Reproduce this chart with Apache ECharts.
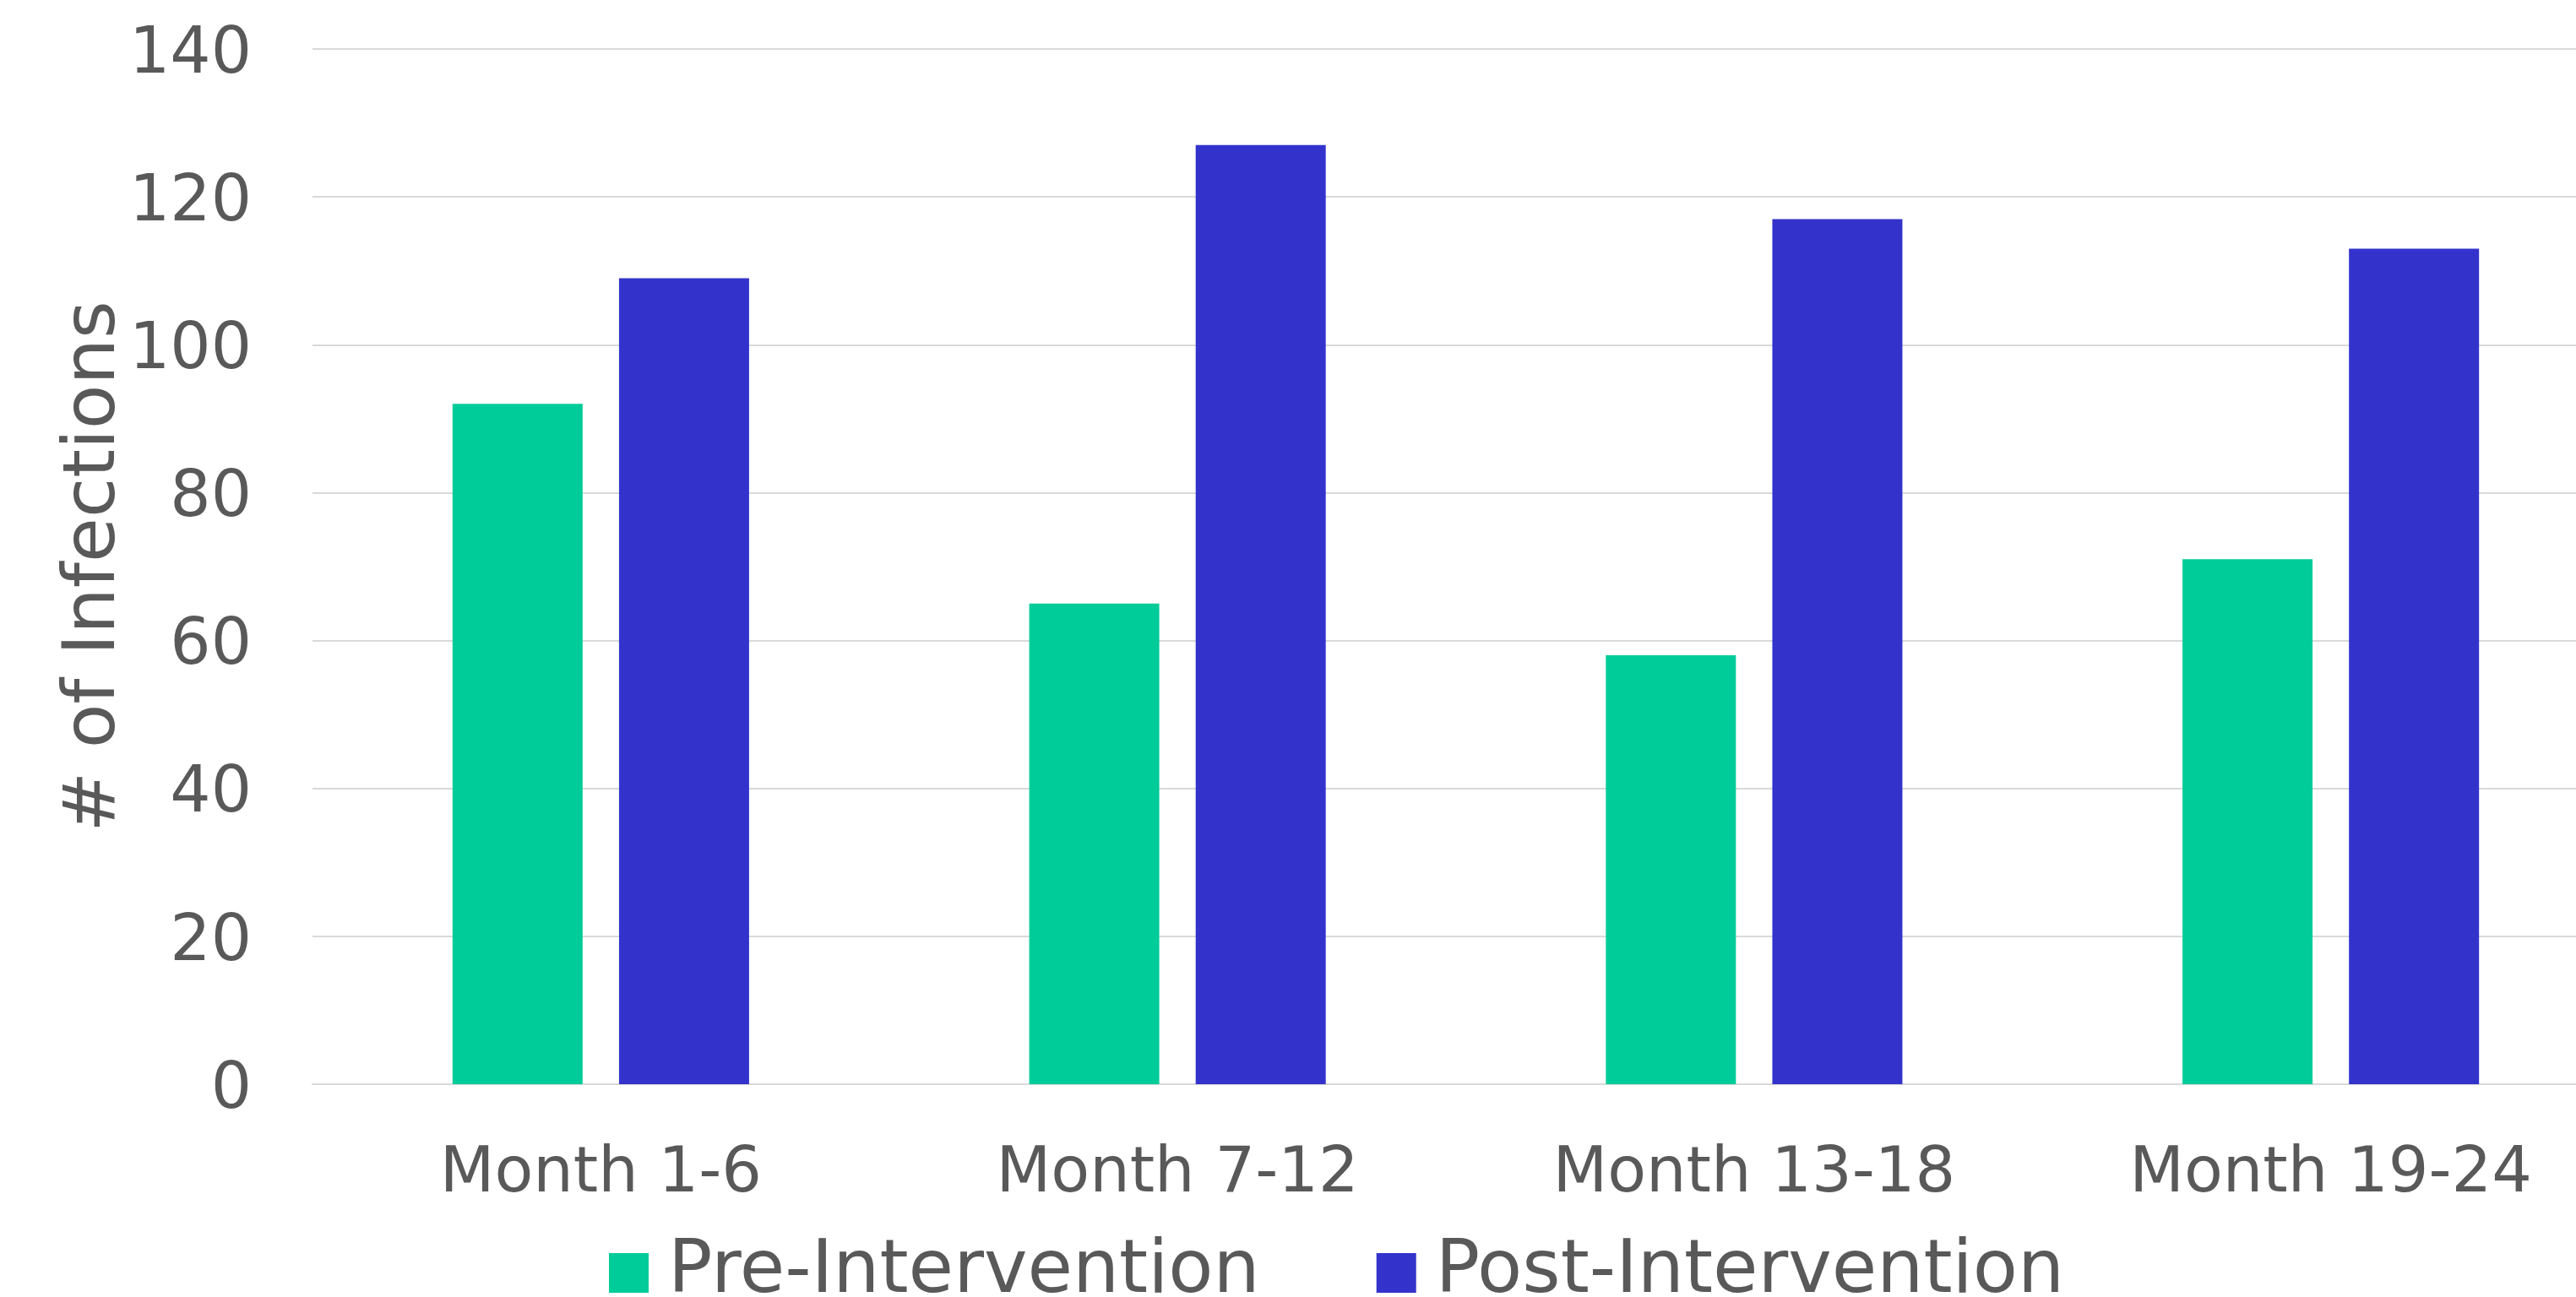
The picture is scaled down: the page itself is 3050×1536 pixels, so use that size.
<!DOCTYPE html>
<html>
<head>
<meta charset="utf-8">
<script src="https://cdn.jsdelivr.net/npm/echarts@6/dist/echarts.min.js"></script>
<style>
html,body{margin:0;padding:0;background:#fff;}
#chart{width:3050px;height:1536px;}
</style>
</head>
<body>
<div id="chart"></div>
<script>
const categories = ["Month 1-6", "Month 7-12", "Month 13-18", "Month 19-24"];
const seriesNames = ["Pre-Intervention", "Post-Intervention"];
const preValues = [92, 65, 58, 71];
const postValues = [109, 127, 117, 113];
const yAxisTitle = "# of Infections";

const FONT = "DejaVu Sans";
const TEXT = "#595959";

const chart = echarts.init(document.getElementById('chart'), null, {renderer: 'canvas'});
chart.setOption({
  animation: false,
  backgroundColor: '#ffffff',
  textStyle: {fontFamily: FONT, color: TEXT},
  grid: {left: 370, top: 58, right: -51, height: 1226, containLabel: false, outerBoundsMode: 'none'},
  legend: {
    left: 716,
    top: 1459,
    itemWidth: 47,
    itemHeight: 47,
    itemGap: 138,
    icon: 'rect',
    textStyle: {fontFamily: FONT, fontSize: 87, color: TEXT, padding: [0, 0, 0, 18]},
    data: seriesNames
  },
  xAxis: {
    type: 'category',
    data: categories,
    axisLine: {show: true, lineStyle: {color: '#D9D9D9', width: 2}},
    axisTick: {show: false},
    axisLabel: {fontFamily: FONT, fontSize: 75, color: TEXT, margin: 70}
  },
  yAxis: {
    type: 'value',
    min: 0,
    max: 140,
    interval: 20,
    name: yAxisTitle,
    nameLocation: 'middle',
    nameGap: 214,
    nameMoveOverlap: false,
    nameRotate: 90,
    nameTextStyle: {fontFamily: FONT, fontSize: 86, color: TEXT},
    axisLine: {show: false},
    axisTick: {show: false},
    splitLine: {lineStyle: {color: '#D9D9D9', width: 2}},
    axisLabel: {
      color: TEXT, margin: 72,
      formatter: '{v|{value}}',
      rich: {v: {fontFamily: FONT, fontSize: 76, color: TEXT, padding: [16, 0, 0, 0]}}
    }
  },
  series: [
    {name: seriesNames[0], type: 'bar', data: preValues, barWidth: 154, barGap: '28%',
     itemStyle: {color: '#00CC99'}},
    {name: seriesNames[1], type: 'bar', data: postValues, barWidth: 154, barGap: '28%',
     itemStyle: {color: '#3333CC'}}
  ]
});
</script>
</body>
</html>
